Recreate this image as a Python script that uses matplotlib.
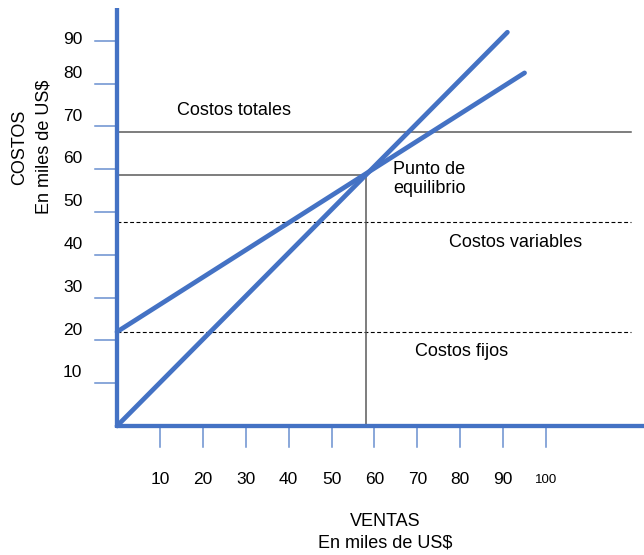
import matplotlib
matplotlib.use("Agg")
import matplotlib.pyplot as plt

plt.rcParams['font.family'] = ['Liberation Sans', 'DejaVu Sans']

# Break-even chart data (thousands of US$)
sales_ticks = [10, 20, 30, 40, 50, 60, 70, 80, 90, 100]
cost_ticks = [10, 20, 30, 40, 50, 60, 70, 80, 90]

fixed_cost = 22.0          # Costos fijos
variable_level = 47.7      # Costos variables reference line
total_level = 68.7         # Costos totales reference line

# Total cost line: starts at fixed cost
total_cost_x = [0, 95]
total_cost_y = [22.0, 82.5]

# Revenue line: starts at origin
revenue_x = [0, 91]
revenue_y = [0, 92]

breakeven_x = 58.0
breakeven_y = 58.6

BLUE = '#4472C4'
TICK_BLUE = '#6990D0'
GRAY = '#5a5a5a'
FS = 13

fig = plt.figure(figsize=(6.44, 5.55), dpi=100)
ax = fig.add_axes([0, 0, 1, 1])
ax.set_xlim(-27.27, 122.84)
ax.set_ylim(-30.14, 99.53)
ax.axis('off')

# Reference lines
ax.plot([0, 119.8], [total_level, total_level], color=GRAY, lw=1.1, zorder=1)
ax.plot([0, 119.8], [variable_level, variable_level], color='black', lw=0.8,
        linestyle=(0, (3.5, 2.2)), zorder=1)
ax.plot([0, 119.8], [fixed_cost, fixed_cost], color='black', lw=0.8,
        linestyle=(0, (3.5, 2.2)), zorder=1)

# Break-even guides
ax.plot([0, breakeven_x], [breakeven_y, breakeven_y], color=GRAY, lw=1.1, zorder=1)
ax.plot([breakeven_x, breakeven_x], [0, breakeven_y], color=GRAY, lw=1.1, zorder=1)

# Cost and revenue lines
ax.plot(total_cost_x, total_cost_y, color=BLUE, lw=3.4,
        solid_capstyle='round', zorder=3)
ax.plot(revenue_x, revenue_y, color=BLUE, lw=3.4,
        solid_capstyle='round', zorder=3)

# Axes
ax.plot([0, 0], [-0.4, 97.7], color=BLUE, lw=3.1, solid_capstyle='butt', zorder=4)
ax.plot([0, 123], [0, 0], color=BLUE, lw=3.1, solid_capstyle='butt', zorder=4)

# Tick marks and labels
for v in cost_ticks:
    ax.plot([-5.1, 0], [v, v], color=TICK_BLUE, lw=1.1, zorder=2)
    dy = 0.3 if v == 90 else 2.4
    ax.text(-10.3, v + dy, str(v), fontsize=12.5, ha='center', va='center')

for v in sales_ticks:
    ax.plot([v, v], [-0.3, -4.9], color=TICK_BLUE, lw=1.1, zorder=2)
    ax.text(v, -12.6, str(v), fontsize=9.5 if v >= 100 else 12.5,
            ha='center', va='center')

# Axis titles
ax.text(-22.6, 65.2, 'COSTOS', fontsize=FS, rotation=90, ha='center', va='center')
ax.text(-17.0, 65.2, 'En miles de US$', fontsize=FS, rotation=90,
        ha='center', va='center')
ax.text(62.5, -22.4, 'VENTAS', fontsize=FS, ha='center', va='center')
ax.text(62.5, -27.3, 'En miles de US$', fontsize=FS, ha='center', va='center')

# Annotations
ax.text(27.3, 73.8, 'Costos totales', fontsize=FS, ha='center', va='center')
ax.text(64.3, 57.7, 'Punto de\nequilibrio', fontsize=FS, ha='left', va='center')
ax.text(92.8, 42.8, 'Costos variables', fontsize=FS, ha='center', va='center')
ax.text(80.2, 17.5, 'Costos fijos', fontsize=FS, ha='center', va='center')

fig.savefig('out.png', dpi=100)
